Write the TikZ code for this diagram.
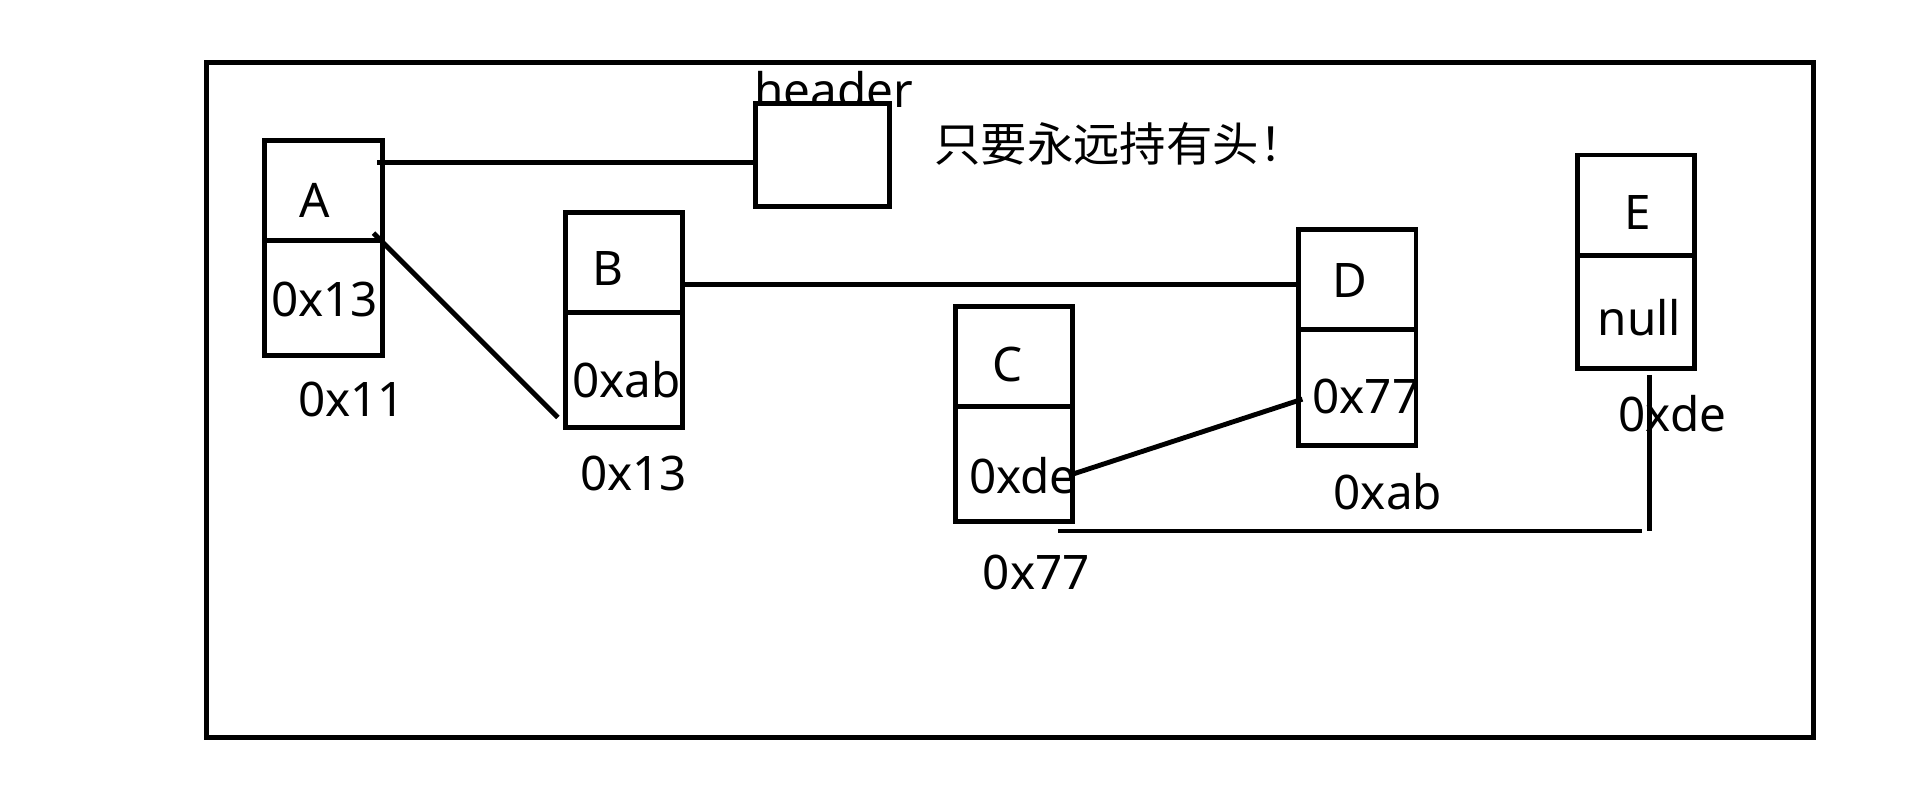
\documentclass[tikz,border=0pt]{standalone}
\usepackage{fontspec}
\setmainfont{Noto Sans}
\newfontfamily\cjk{Noto Sans CJK SC}
\begin{document}
\begin{tikzpicture}[x=0.5pt,y=-0.5pt,
  cell/.style={draw,line width=2pt,inner sep=0pt,outer sep=0pt,minimum width=48pt},
  lbl/.style={font=\fontsize{19.5}{22}\selectfont,inner sep=0pt},
  link/.style={line width=2pt}]
\useasboundingbox (0,0) rectangle (1568,654);
% outer frame
\node[cell,minimum width=658.5pt,minimum height=276.5pt] (frame) at (827.5,327.5) {};
% header
\node[lbl,anchor=base] (hdrtxt) at (683,88) {header};
\node[cell,fill=white,minimum width=55pt,minimum height=42pt] (hdr) at (674,127) {};
\node[lbl,anchor=west,font=\cjk\fontsize{19}{22}\selectfont] (note) at (765,118) {只要永远持有头！};
% node A
\node[cell,minimum height=41pt] (Atop) at (265,156) {};
\node[cell,minimum height=47pt] (Abot) at (265,244) {};
\node[lbl] (Aname) at (258,164) {A};
\node[lbl] (Anext) at (266,245) {0x13};
\node[lbl] (Aaddr) at (288,327) {0x11};
% node B
\node[cell,minimum height=41pt] (Btop) at (511,215) {};
\node[cell,minimum height=47pt] (Bbot) at (511,303) {};
\node[lbl] (Bname) at (498,220) {B};
\node[lbl] (Bnext) at (513,311) {0xab};
\node[lbl] (Baddr) at (519,388) {0x13};
% node C
\node[cell,minimum height=41pt] (Ctop) at (830.5,292) {};
\node[cell,minimum height=47pt] (Cbot) at (830.5,380) {};
\node[lbl] (Cname) at (825,299) {C};
\node[lbl] (Cnext) at (838,390) {0xde};
\node[lbl] (Caddr) at (849,469) {0x77};
% node D
\node[cell,minimum height=41pt] (Dtop) at (1112,229) {};
\node[cell,minimum height=47.5pt] (Dbot) at (1112,317.5) {};
\node[lbl] (Dname) at (1106,230) {D};
\node[lbl] (Dnext) at (1119,325) {0x77};
\node[lbl] (Daddr) at (1137,403) {0xab};
% node E
\node[cell,minimum height=41pt] (Etop) at (1340,168) {};
\node[cell,minimum height=46.5pt] (Ebot) at (1340,255.5) {};
\node[lbl] (Ename) at (1342,174) {E};
\node[lbl] (Enext) at (1343,260) {null};
\node[lbl] (Eaddr) at (1370,339) {0xde};
% connector end points
\coordinate (a1) at (309,133);
\coordinate (a2) at (306,191);
\coordinate (b1) at (457,342);
\coordinate (b2) at (559,233);
\coordinate (c1) at (880,388);
\coordinate (d1) at (1067,327);
\coordinate (e1) at (1351,307);
\coordinate (e2) at (1351,435);
\coordinate (e3) at (1345,435);
\coordinate (c2) at (867,435);
% connectors
\draw[link] (a1) -- (a1 -| hdr.west);
\draw[link] (a2) -- (b1);
\draw[link] (b2) -- (b2 -| Dtop.west);
\draw[link] (c1) -- (d1);
\draw[link] (e1) -- (e2);
\draw[link] (e3) -- (c2);
\end{tikzpicture}
\end{document}
